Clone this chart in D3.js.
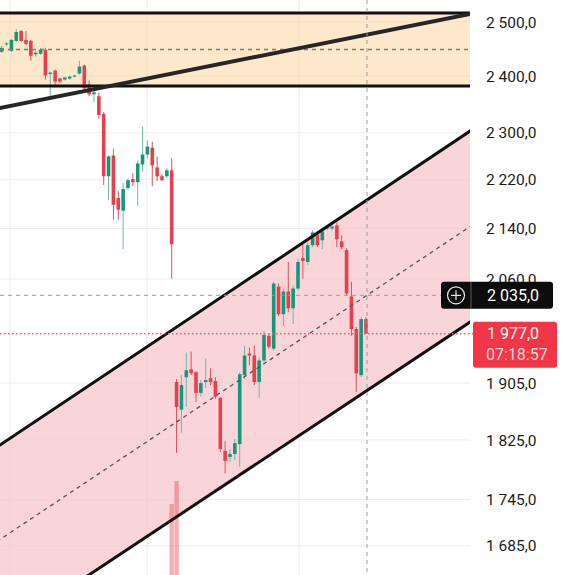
<!DOCTYPE html>
<html>
<head>
<meta charset="utf-8">
<script src="https://cdn.jsdelivr.net/npm/d3@7"></script>
<style>
html, body { margin: 0; padding: 0; background: #fff; overflow: hidden; }
svg { display: block; font-family: Roboto, "Noto Sans", sans-serif; }
</style>
</head>
<body>
<script>
// candles, oldest first (index 0..75)
const open = [2444.5, 2458.2, 2446.4, 2464.7, 2483.1, 2466.5, 2464.7, 2440, 2440.9, 2448.2,
  2403.9, 2410.2, 2395.8, 2394, 2395.8, 2399.4, 2404.8, 2419.2, 2385.2, 2367.5,
  2364, 2332.6, 2225.9, 2260.9, 2189.9, 2168.8, 2206.2, 2221, 2216, 2245.8,
  2262.6, 2274.4, 2240.8, 2225.9, 2225.9, 2235.9, 1906.3, 1867.1, 1913.3, 1924.7,
  1920.5, 1890.8, 1906.3, 1911.9, 1907.7, 1883.8, 1809.8, 1801.8, 1805.8, 1819.3,
  1916.2, 1947.7, 1944.8, 1906.3, 1937.6, 1973.8, 1954.9, 2048.4, 2006.2, 2040.8,
  2015.2, 2045.4, 2093, 2086.7, 2113.2, 2130.5, 2121, 2140.1, 2140.1, 2144.9,
  2119.4, 2105.4, 2033.2, 1984, 1916.2, 1998.8];
const high = [2455.5, 2462.8, 2468.4, 2486.9, 2485, 2483.1, 2466.5, 2446.4, 2451.8, 2451.8,
  2408.4, 2412, 2397.6, 2399.4, 2401.2, 2403, 2428.2, 2421, 2392.2, 2376.3,
  2371, 2336.1, 2260.9, 2272.7, 2201.3, 2214.4, 2222.6, 2230.9, 2252.6, 2310.1,
  2286.3, 2284.6, 2259.3, 2229.2, 2239.2, 2255.9, 1910.5, 1916.2, 1949.1, 1950.5,
  1921.9, 1909.1, 1940.5, 1926.2, 1913.3, 1885.2, 1823.3, 1812.5, 1826, 1920.5,
  1959.2, 1956.3, 1959.2, 1941.9, 1981.1, 1976.8, 2056, 2053, 2045.4, 2086.7,
  2049.9, 2091.4, 2114.8, 2117.9, 2136.9, 2135.3, 2140.1, 2144.9, 2146.5, 2149.6,
  2128.9, 2108.6, 2056, 1987, 2001.8, 2001.8];
const low = [2442.7, 2455.5, 2444.5, 2462.8, 2462.8, 2457.3, 2428.2, 2435.5, 2439.1, 2394,
  2358.7, 2379.9, 2387, 2392.2, 2394, 2397.6, 2403, 2376.3, 2364, 2353.5,
  2324, 2211.1, 2186.6, 2154.4, 2154.4, 2107, 2202.9, 2209.5, 2176.9, 2234.2,
  2255.9, 2209.5, 2217.7, 2217.7, 2222.6, 2060.6, 1807.1, 1835, 1871.2, 1916.2,
  1878.2, 1885.2, 1897.8, 1902, 1882.4, 1808.5, 1779.3, 1795.1, 1797.8, 1788.5,
  1910.5, 1930.4, 1902, 1883.8, 1934.8, 1954.9, 1952, 2003.3, 1988.5, 2009.2,
  1991.4, 2042.3, 2060.6, 2082.1, 2110.1, 2110.1, 2107, 2136.9, 2136.9, 2110.1,
  2107, 2034.7, 1973.8, 1892.2, 1913.3, 1979.6];
const close = [2451.8, 2460.1, 2466.5, 2481.3, 2464.7, 2459.1, 2437.3, 2442.7, 2448.2, 2401.2,
  2406.6, 2390.5, 2390.5, 2397.6, 2399.4, 2401.2, 2417.4, 2378.1, 2367.5, 2371,
  2330.9, 2225.9, 2259.3, 2178.5, 2170.5, 2204.6, 2219.3, 2216, 2247.5, 2262.6,
  2276.1, 2244.1, 2225.9, 2219.3, 2235.9, 2114.8, 1870.7, 1902, 1923.3, 1919,
  1890.8, 1904.8, 1909.1, 1906.3, 1885.2, 1812.5, 1796.5, 1805.8, 1820.6, 1917.6,
  1944.8, 1944.8, 1906.3, 1937.6, 1975.3, 1957.8, 2053, 2006.2, 2040.8, 2015.2,
  2045.4, 2086.7, 2088.3, 2113.2, 2133.7, 2113.2, 2135.3, 2141.7, 2143.3, 2122.6,
  2110.1, 2037.8, 1984, 1919, 1998.8, 1977];

// only the two volume spikes reach into view
const volIdx = [35, 36];
const volVals = [45200, 49800];

// price axis labels
const priceTicks = [2500, 2400, 2300, 2220, 2140, 2060, 1905, 1825, 1745, 1685];
const timeGrid = [1.7, 29.9, 61.2];

// drawings: [candle index, price]
const bandTop = 2517, bandBottom = 2382.4;
const trendLine = [[-1, 2342.2], [97, 2516.2]];
const channelUpper = [[-1, 1815.2], [97, 2306.1]];
const channelLower = [[-1, 1574.4], [97, 1997.1]];

const crossPrice = 2035, crossIdx = 75;
const lastPrice = 1977, countdown = "07:18:57";

const W = 567, H = 575, plotW = 470;
const fmt = d3.formatLocale({decimal: ",", thousands: "\u00a0", grouping: [3], currency: ["", ""]}).format(",.1f");

const x = d3.scaleLinear().domain([0, 75]).range([1.7, 366]);
const y = d3.scaleLog().domain([1648.5, 2541.8]).range([H, 0]);
const vy = d3.scaleLinear().domain([0, 50000]).range([730, 480]);

const svg = d3.select("body").append("svg")
  .attr("width", W)
  .attr("height", H);

svg.append("defs").append("clipPath").attr("id", "plot")
  .append("rect").attr("width", plotW).attr("height", H);

const g = svg.append("g").attr("clip-path", "url(#plot)");

// grid
g.selectAll(".hgrid").data(priceTicks).join("line")
  .attr("x1", 0).attr("x2", plotW)
  .attr("y1", d => y(d)).attr("y2", d => y(d))
  .attr("stroke", "#eeeeee").attr("stroke-width", 1);
g.selectAll(".vgrid").data(timeGrid).join("line")
  .attr("x1", d => x(d)).attr("x2", d => x(d))
  .attr("y1", 0).attr("y2", H)
  .attr("stroke", "#eeeeee").attr("stroke-width", 1);

// fills
g.append("rect")
  .attr("x", 0).attr("width", plotW)
  .attr("y", y(bandTop)).attr("height", y(bandBottom) - y(bandTop))
  .attr("fill", "#fcd6a0").attr("fill-opacity", 0.55);

let line = d3.line().x(d => x(d[0])).y(d => y(d[1]));
let channelPoly = channelUpper.concat(channelLower.slice().reverse());
g.append("path")
  .attr("d", line(channelPoly) + "Z")
  .attr("fill", "#f7c3c9").attr("fill-opacity", 0.7);

// volume
g.selectAll(".vol").data(volIdx).join("rect")
  .attr("x", d => x(d) - 2.2).attr("width", 4.4)
  .attr("y", (d, k) => vy(volVals[k]))
  .attr("height", (d, k) => vy(0) - vy(volVals[k]))
  .attr("fill", "#e4505a").attr("fill-opacity", 0.45);

// candles
const candles = open.map((o, i) => ({i: i, o: o, h: high[i], l: low[i], c: close[i]}));
const bw = 3.6;
g.selectAll(".wick").data(candles).join("line")
  .attr("x1", d => x(d.i)).attr("x2", d => x(d.i))
  .attr("y1", d => y(d.h)).attr("y2", d => y(d.l))
  .attr("stroke", d => d.c >= d.o ? "#6db8a6" : "#dc4f5c")
  .attr("stroke-width", 1);
g.selectAll(".body").data(candles).join("rect")
  .attr("x", d => x(d.i) - bw / 2).attr("width", bw)
  .attr("y", d => y(Math.max(d.o, d.c)))
  .attr("height", d => Math.max(1, Math.abs(y(d.o) - y(d.c))))
  .attr("fill", d => d.c >= d.o ? "#18967a" : "#e3414f");

// band lines
[bandTop, bandBottom].forEach(p => {
  g.append("line")
    .attr("x1", 0).attr("x2", plotW)
    .attr("y1", y(p)).attr("y2", y(p))
    .attr("stroke", "#111").attr("stroke-width", 3);
});
g.append("line")
  .attr("x1", 0).attr("x2", plotW)
  .attr("y1", y(Math.sqrt(bandTop * bandBottom))).attr("y2", y(Math.sqrt(bandTop * bandBottom)))
  .attr("stroke", "#8c7a66").attr("stroke-width", 1.3).attr("stroke-dasharray", "4,4");

// channel
let channelMid = channelUpper.map((d, k) => [d[0], Math.sqrt(d[1] * channelLower[k][1])]);
g.append("path").attr("d", line(channelMid))
  .attr("fill", "none").attr("stroke", "#555").attr("stroke-width", 1.3).attr("stroke-dasharray", "4,4");
[channelUpper, channelLower].forEach(c => {
  g.append("path").attr("d", line(c))
    .attr("fill", "none").attr("stroke", "#111").attr("stroke-width", 3);
});

// trend line
g.append("path").attr("d", line(trendLine))
  .attr("fill", "none").attr("stroke", "#262626").attr("stroke-width", 4);

// current price line
svg.append("line")
  .attr("x1", 0).attr("x2", 473)
  .attr("y1", y(lastPrice)).attr("y2", y(lastPrice))
  .attr("stroke", "#e8606c").attr("stroke-width", 1.4).attr("stroke-dasharray", "1.5,2.5");

// crosshair
svg.append("line")
  .attr("x1", 0).attr("x2", 441)
  .attr("y1", y(crossPrice)).attr("y2", y(crossPrice))
  .attr("stroke", "#9c9c9c").attr("stroke-width", 1).attr("stroke-dasharray", "4,4");
svg.append("line")
  .attr("x1", x(crossIdx) + 1).attr("x2", x(crossIdx) + 1)
  .attr("y1", 0).attr("y2", H)
  .attr("stroke", "#9c9c9c").attr("stroke-width", 1).attr("stroke-dasharray", "4,4");

// price axis
svg.selectAll(".tick").data(priceTicks).join("text")
  .attr("x", 486).attr("y", d => y(d)).attr("dy", "0.36em")
  .attr("font-size", 15.5).attr("fill", "#1c1c1c")
  .text(d => fmt(d));

// crosshair price box
let cy = y(crossPrice);
svg.append("rect")
  .attr("x", 441).attr("y", cy - 13.5).attr("width", 112).attr("height", 27).attr("rx", 3)
  .attr("fill", "#0c0c0c");
svg.append("line")
  .attr("x1", 471).attr("x2", 471).attr("y1", cy - 13.5).attr("y2", cy + 13.5)
  .attr("stroke", "#5a5a5a").attr("stroke-width", 1);
svg.append("circle")
  .attr("cx", 456).attr("cy", cy).attr("r", 8.5)
  .attr("fill", "none").attr("stroke", "#e6e6e6").attr("stroke-width", 1.2);
svg.append("path")
  .attr("d", `M451,${cy}H461M456,${cy - 5}V${cy + 5}`)
  .attr("stroke", "#e6e6e6").attr("stroke-width", 1.2);
svg.append("text")
  .attr("x", 487).attr("y", cy).attr("dy", "0.36em")
  .attr("font-size", 16).attr("fill", "#fff")
  .text(fmt(crossPrice));

// last price box
let ly = y(lastPrice);
svg.append("rect")
  .attr("x", 473).attr("y", ly - 12).attr("width", 84).attr("height", 46).attr("rx", 3)
  .attr("fill", "#f23645");
svg.append("text")
  .attr("x", 487).attr("y", ly).attr("dy", "0.36em")
  .attr("font-size", 16).attr("fill", "#fff")
  .text(fmt(lastPrice));
svg.append("text")
  .attr("x", 486).attr("y", ly + 21).attr("dy", "0.36em")
  .attr("font-size", 16).attr("fill", "#ffd9dd")
  .text(countdown);
</script>
</body>
</html>
